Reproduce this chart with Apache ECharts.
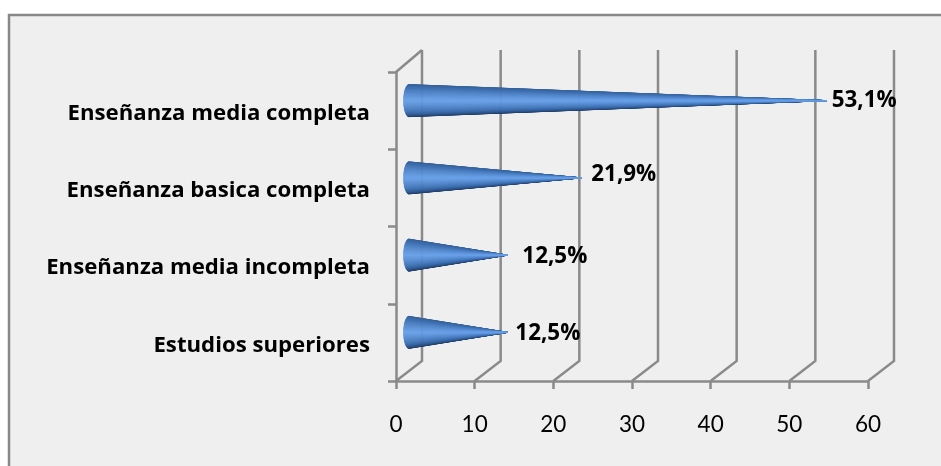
<!DOCTYPE html>
<html>
<head>
<meta charset="utf-8">
<style>html,body{margin:0;padding:0;background:#fff}#chart{width:941px;height:466px}</style>
<script src="https://cdn.jsdelivr.net/npm/echarts@6/dist/echarts.min.js"></script>
</head>
<body>
<div id="chart"></div>
<script>
// Education levels, top to bottom, with their share in percent
const categories = ['Enseñanza media completa', 'Enseñanza basica completa', 'Enseñanza media incompleta', 'Estudios superiores'];
const shares = [53.1, 21.9, 12.5, 12.5];
const axisTicks = [0, 10, 20, 30, 40, 50, 60];
const labelGaps = [5, 10, 15, 8];
const labelLifts = [0, 3, -1, -1];

// Pseudo-3D depth of the chart box and of the cones sitting halfway inside it
const DEPTH_X = 26, DEPTH_Y = 20;
const WALL = '#8a8a8a';
const CONE_HALF = 16, CONE_RX = 5.5, STRIPS = 64;

// Shading stops around the cone, from its upper edge to its lower edge
const shade = [[0, [52, 92, 142]], [0.22, [62, 112, 178]], [0.5, [104, 160, 232]], [0.75, [60, 110, 176]], [1, [26, 50, 84]]];
function shadeAt(t) {
  for (let i = 1; i < shade.length; i++) {
    if (t <= shade[i][0]) {
      const a = shade[i - 1], b = shade[i], k = (t - a[0]) / (b[0] - a[0]);
      return 'rgb(' + a[1].map((c, n) => Math.round(c + (b[1][n] - c) * k)).join(',') + ')';
    }
  }
  return 'rgb(26,50,84)';
}

// Strips are painted from the rim inwards so the bright band stays on top at the tip
const stripOrder = Array.from({ length: STRIPS }, (_, i) => i)
  .sort((a, b) => Math.abs(b + 0.5 - STRIPS / 2) - Math.abs(a + 0.5 - STRIPS / 2));

function renderWall(params, api) {
  const box = params.coordSys;
  const x = api.coord([api.value(0), 0])[0];
  const bottom = box.y + box.height;
  return {
    type: 'polyline',
    shape: { points: [[x, bottom], [x + DEPTH_X, bottom - DEPTH_Y], [x + DEPTH_X, box.y - DEPTH_Y - 2]] },
    style: { stroke: WALL, lineWidth: 2.5, fill: null }
  };
}

function renderCornerEdge(params) {
  const box = params.coordSys;
  return {
    type: 'line',
    shape: { x1: box.x, y1: box.y, x2: box.x + DEPTH_X, y2: box.y - DEPTH_Y - 2 },
    style: { stroke: WALL, lineWidth: 2.5 }
  };
}

function renderCone(params, api) {
  const idx = api.value(1);
  const base = api.coord([0, idx]);
  const end = api.coord([api.value(0), idx]);
  const bx = base[0] + DEPTH_X / 2, cy = base[1] - DEPTH_Y / 2;
  const tip = [end[0] + DEPTH_X / 2, cy];
  const children = stripOrder.map(i => {
    const a0 = -Math.PI / 2 + Math.PI * i / STRIPS;
    const a1 = -Math.PI / 2 + Math.PI * (i + 1) / STRIPS;
    const col = shadeAt((i + 0.5) / STRIPS);
    return {
      type: 'polygon',
      shape: { points: [
        tip,
        [bx - CONE_RX * Math.cos(a0), cy + CONE_HALF * Math.sin(a0)],
        [bx - CONE_RX * Math.cos(a1), cy + CONE_HALF * Math.sin(a1)]
      ] },
      style: { fill: col, stroke: col, lineWidth: 0.5 }
    };
  });
  children.push({
    type: 'text',
    style: {
      x: tip[0] + labelGaps[idx],
      y: cy - labelLifts[idx],
      text: api.value(0).toFixed(1).replace('.', ',') + '%',
      fill: '#000',
      font: 'bold 22.4px "Open Sans"',
      textAlign: 'left',
      textVerticalAlign: 'middle'
    }
  });
  return { type: 'group', children };
}

const chart = echarts.init(document.getElementById('chart'), null, { renderer: 'canvas' });
chart.setOption({
  animation: false,
  backgroundColor: '#ffffff',
  graphic: [
    { type: 'rect', z: -10, shape: { x: 9, y: 15, width: 940, height: 460 }, style: { fill: '#efefef' } },
    { type: 'polyline', z: -9, shape: { points: [[9, 470], [9, 15], [945, 15]] }, style: { stroke: '#888888', lineWidth: 2.5, fill: null } }
  ],
  grid: { left: 396, right: 73, top: 72, bottom: 85 },
  xAxis: {
    type: 'value', min: 0, max: 60, interval: 10,
    splitLine: { show: false },
    axisLine: { show: true, lineStyle: { color: WALL, width: 2.5 } },
    axisTick: { show: true, length: 8, lineStyle: { color: WALL, width: 2.5 } },
    axisLabel: { color: '#000', fontFamily: 'Lato', fontSize: 22.5, margin: 32, showMinLabel: true, showMaxLabel: true,
      formatter: v => axisTicks.includes(v) ? String(v) : '' }
  },
  yAxis: {
    type: 'category', inverse: true, data: categories,
    axisLine: { show: true, lineStyle: { color: WALL, width: 2.5 } },
    axisTick: { show: true, length: 8, lineStyle: { color: WALL, width: 2.5 } },
    axisLabel: { color: '#000', fontFamily: 'Open Sans', fontWeight: 'bold', fontSize: 22.2, margin: 26, interval: 0,
      verticalAlign: 'top', lineHeight: 6 }
  },
  series: [
    { type: 'custom', z: 1, clip: false, silent: true, renderItem: renderWall,
      data: axisTicks.map(t => [t, 0]), encode: { x: 0, y: 1 } },
    { type: 'custom', z: 1, clip: false, silent: true, renderItem: renderCornerEdge,
      data: [[0, 0]], encode: { x: 0, y: 1 } },
    { type: 'custom', z: 3, clip: false, silent: true, renderItem: renderCone,
      data: shares.map((v, i) => [v, i]), encode: { x: 0, y: 1 } }
  ]
});
</script>
</body>
</html>
